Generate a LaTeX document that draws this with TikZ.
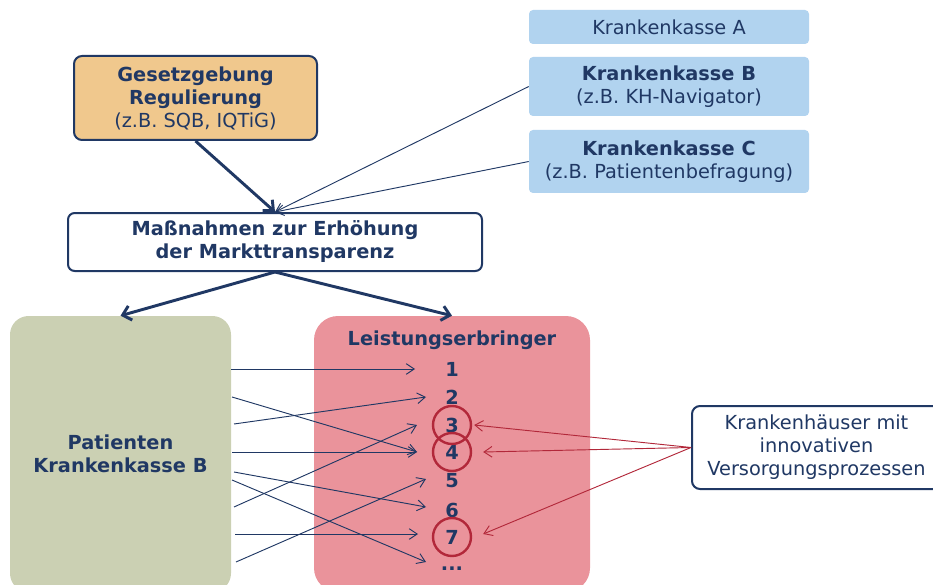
\documentclass[tikz,border=0pt]{standalone}
\usepackage{fontspec}
\setmainfont{DejaVu Sans}
\usetikzlibrary{arrows.meta}
\definecolor{navy}{HTML}{203864}
\definecolor{orangef}{HTML}{F0C88D}
\definecolor{bluef}{HTML}{B1D3EF}
\definecolor{greenf}{HTML}{CBD0B3}
\definecolor{pinkf}{HTML}{EA939B}
\definecolor{redc}{HTML}{B2283A}
\begin{document}
\begin{tikzpicture}[x=0.75pt,y=-0.75pt,
  font=\fontsize{14.5}{17.25}\selectfont,
  panel/.style 2 args={minimum width=#1*0.75pt, minimum height=#2*0.75pt,
    inner sep=0pt, align=center, text=navy},
  frame/.style={draw=navy, line width=1.5pt},
  num/.style={inner sep=0pt, text=navy, font=\fontsize{14.5}{17}\selectfont\bfseries},
  ring/.style={circle, draw=redc, line width=1.8pt, minimum size=28.5pt, inner sep=0pt},
  thick arrow/.style={draw=navy, line width=2.2pt, -{Straight Barb[length=6pt,width=11pt]}},
  thin arrow/.style={draw=navy, line width=0.7pt, -{Straight Barb[length=6pt,width=8pt]}},
  red arrow/.style={draw=redc, line width=0.7pt, -{Straight Barb[length=6pt,width=8pt]}}]

\clip (0,0) rectangle (933,585);

% upper part: sources of transparency measures
\node[panel={243}{84}, frame, fill=orangef, rounded corners=6pt] (ges) at (195.5,98)
  {\textbf{Gesetzgebung}\\\textbf{Regulierung}\\(z.B. SQB, IQTiG)};
\node[panel={414}{58}, frame, fill=white, rounded corners=5pt] (mass) at (275,242)
  {\textbf{Maßnahmen zur Erhöhung}\\\textbf{der Markttransparenz}};
\node[panel={280}{34}, fill=bluef, rounded corners=3pt] (ka) at (669,27) {Krankenkasse A};
\node[panel={280}{59}, fill=bluef, rounded corners=3pt] (kb) at (669,86.5)
  {\textbf{Krankenkasse B}\\(z.B. KH-Navigator)};
\node[panel={280}{63}, fill=bluef, rounded corners=3pt] (kc) at (669,161.5)
  {\textbf{Krankenkasse C}\\(z.B. Patientenbefragung)};

% lower part: patients and providers
\node[panel={221}{276}, fill=greenf, rounded corners=14pt] (pat) at (120.5,454)
  {\textbf{Patienten}\\\textbf{Krankenkasse B}};
\node[panel={276}{276}, fill=pinkf, rounded corners=18pt] (le) at (452,454) {};
\node[num] (title) at (452,340) {Leistungserbringer};
\node[num] (n1) at (452,369) {1};
\node[num] (n2) at (452,397) {2};
\node[num] (n3) at (452,425) {3};
\node[num] (n4) at (452,452) {4};
\node[num] (n5) at (452,481) {5};
\node[num] (n6) at (452,510) {6};
\node[num] (n7) at (452,537) {7};
\node[num] (ndots) at (452,569) {...};
\node[ring] (c3) at (n3) {};
\node[ring] (c4) at (n4) {};
\node[ring] (c7) at (n7) {};

\node[panel={249}{83}, frame, fill=white, rounded corners=6pt] (kh) at (816.5,447.5)
  {Krankenhäuser mit\\innovativen\\Versorgungsprozessen};

% arrows into and out of the measures box
\draw[thick arrow] (ges.south) -- (mass.north);
\draw[thin arrow] (kb.west) -- (mass.north);
\draw[thin arrow] (kc.west) -- (mass.north);
\draw[thick arrow] (mass.south) -- (pat.north);
\draw[thick arrow] (mass.south) -- (le.north);

% patient choices
\coordinate (s1) at (231,369);
\coordinate (s2) at (232,397);
\coordinate (s3) at (234,424);
\coordinate (s4) at (232,452);
\coordinate (s5) at (234,472);
\coordinate (s6) at (232,480);
\coordinate (s7) at (234,507);
\coordinate (s8) at (235,534);
\coordinate (s9) at (236,562);
\draw[thin arrow] (s1) -- ([shift={(-37,0)}]n1.center);
\draw[thin arrow] (s2) -- ([shift={(-35,0)}]n4.center);
\draw[thin arrow] (s3) -- ([shift={(-26,0)}]n2.center);
\draw[thin arrow] (s4) -- ([shift={(-35,0)}]n4.center);
\draw[thin arrow] (s5) -- ([shift={(-26,-3)}]n6.center);
\draw[thin arrow] (s6) -- ([shift={(-26,-7)}]ndots.center);
\draw[thin arrow] (s7) -- ([shift={(-35,0)}]n3.center);
\draw[thin arrow] (s8) -- ([shift={(-34,-3)}]n7.center);
\draw[thin arrow] (s9) -- ([shift={(-26,-2)}]n5.center);

% innovative hospitals
\draw[red arrow] (kh.west) -- ([shift={(2,0)}]c3.east);
\draw[red arrow] (kh.west) -- ([shift={(11,0)}]c4.east);
\draw[red arrow] (kh.west) -- ([shift={(11,-3)}]c7.east);
\end{tikzpicture}
\end{document}
